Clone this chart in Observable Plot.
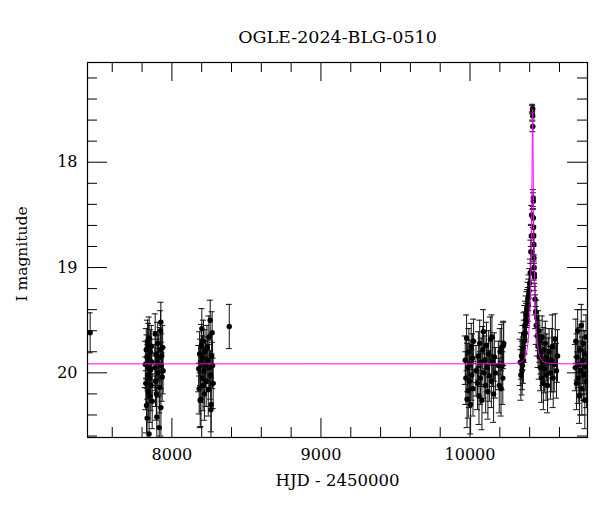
<!DOCTYPE html>
<html><head><meta charset="utf-8">
<script src="https://cdn.jsdelivr.net/npm/d3@7"></script>
<script src="https://cdn.jsdelivr.net/npm/@observablehq/plot@0.6"></script>
<style>body{margin:0;background:#fff} svg{display:block}</style>
</head><body><div id="chart"></div>
<script>
const title = "OGLE-2024-BLG-0510";
const xLabel = "HJD - 2450000";
const yLabel = "I magnitude";

// Observations: HJD-2450000, I magnitude, error
const hjd = [
 7452,
 7822,7825,7828,7830,7833,7834,7836,7838,7840,7842,7844,7847,7847.5,7850,7852,7854,7856,7858,7860,7862,7865,7868,
 7886,7888,7890,7893,7896,7899,7902,7905,7908,7911,7915,7918,7921,7924,7926,7926.5,7929,7932,7935,7938,7941,
 8180,8183,8186,8190,8192,8195,8198,8201,8203,8206,8209,8212,8215,8218,8222,8226,8230,8235,8240,8244,8248,8252,8257,8260,8262,8264,8267,8270,8273,8277,
 8385,
 9968,9972,9977,9980,9984,9988,9992,9996,10000,10004,10008,10012,10016,10020,10024,10040,10050,10056,10060,10065,10070,10075,10080,10085,10090,10095,10100,10105,10110,10115,10120,10125,10130,10137,10143,10147,10152,10158,10163,10170,10190,10196,10202,10208,10212,10216,10220,10224,10226,
 10337,10341,10345,10349,10352,10355,10358,10361,10364,10367,10370,10373,10376,10379,10382,10385,10388,10391,10394,10396,10400,10404,10408,10411,10413,
 10419.5,10420,10420.5,10421,
 10424,10424.5,10425,10426,10427,10428,10429,10430,10431,10432,10436,10440,10444,10448,10452,10456,10460,10464,10468,10472,10476,10480,10484,10488,10492,10496,10500,10505,10510,10515,10520,10525,10530,10540,10548,10552,10558,10565,10572,10580,10587,
 10706,10710,10714,10718,10722,10726,10730,10734,10738,10742,10746,10750,10754,10758,10762,10766,10770,10774,10778,10782
];
const imag = [
 19.62,
 19.92,20.10,19.78,20.31,19.85,20.43,19.70,20.02,19.95,20.18,19.74,20.58,19.67,20.05,19.88,20.22,19.80,19.97,20.12,19.75,19.90,20.27,
 19.95,19.63,20.08,19.82,20.20,20.42,19.90,19.72,20.00,19.86,20.52,20.14,19.78,19.60,19.52,20.33,19.93,19.84,20.04,19.76,19.98,
 19.96,20.15,19.82,20.26,19.90,20.25,19.74,19.58,20.05,19.86,20.12,19.70,19.98,20.20,19.80,19.92,20.08,19.76,19.88,20.16,19.66,19.95,19.50,20.02,20.35,20.30,19.84,19.62,19.93,20.10,
 19.56,
 19.88,20.05,19.67,20.25,19.95,20.17,19.80,20.08,19.92,20.30,19.75,20.02,19.86,20.15,19.70,19.98,20.10,19.84,20.22,19.72,20.05,19.90,20.26,19.78,19.61,20.00,19.88,20.12,19.74,19.95,20.18,19.82,20.03,19.68,20.08,19.66,19.90,20.20,19.85,20.00,19.93,20.12,19.80,20.15,19.76,19.93,20.05,19.74,19.72,
 19.90,20.02,19.84,19.98,19.93,19.76,19.88,19.63,19.70,19.55,19.62,19.50,19.45,19.52,19.40,19.38,19.30,19.35,19.26,19.22,19.15,19.05,18.85,18.70,18.50,
 17.50,17.49,17.56,17.66,
 18.34,18.37,18.53,18.62,18.70,18.78,18.91,19.00,19.06,19.09,19.30,19.42,19.55,19.48,19.65,19.75,19.60,19.85,19.70,19.95,19.80,20.05,19.66,19.90,20.10,19.78,19.96,19.72,20.02,19.85,20.12,19.90,19.80,20.00,19.88,19.75,20.05,19.92,19.68,19.98,19.84,
 19.95,19.70,20.10,19.85,19.60,20.05,19.92,20.22,19.78,19.98,19.55,20.15,19.88,19.72,20.02,19.82,20.26,19.94,19.66,20.08
];
const ierr = [
 0.19,
 0.22,0.25,0.20,0.26,0.21,0.28,0.20,0.23,0.22,0.25,0.21,0.30,0.20,0.23,0.22,0.25,0.21,0.22,0.24,0.20,0.22,0.26,
 0.22,0.19,0.24,0.21,0.25,0.28,0.22,0.20,0.23,0.22,0.30,0.24,0.21,0.19,0.19,0.27,0.22,0.21,0.23,0.21,0.22,
 0.22,0.24,0.21,0.26,0.22,0.26,0.20,0.19,0.23,0.21,0.24,0.20,0.22,0.25,0.21,0.22,0.24,0.21,0.22,0.25,0.20,0.22,0.19,0.23,0.27,0.26,0.21,0.20,0.22,0.24,
 0.21,
 0.23,0.25,0.22,0.27,0.23,0.26,0.22,0.25,0.23,0.28,0.22,0.24,0.23,0.26,0.21,0.24,0.25,0.23,0.27,0.22,0.25,0.23,0.28,0.22,0.21,0.24,0.23,0.26,0.22,0.23,0.26,0.22,0.24,0.21,0.25,0.21,0.23,0.27,0.23,0.24,0.23,0.26,0.22,0.26,0.22,0.23,0.25,0.22,0.21,
 0.22,0.24,0.22,0.23,0.23,0.21,0.22,0.20,0.20,0.19,0.20,0.18,0.18,0.18,0.17,0.17,0.16,0.16,0.15,0.15,0.14,0.13,0.11,0.10,0.09,
 0.04,0.04,0.04,0.05,
 0.08,0.08,0.09,0.09,0.10,0.10,0.11,0.12,0.12,0.13,0.15,0.16,0.18,0.17,0.19,0.20,0.19,0.21,0.20,0.22,0.21,0.23,0.20,0.22,0.25,0.21,0.23,0.21,0.24,0.22,0.26,0.23,0.22,0.25,0.30,0.30,0.28,0.26,0.24,0.26,0.25,
 0.22,0.21,0.25,0.22,0.20,0.24,0.22,0.26,0.21,0.23,0.20,0.25,0.22,0.21,0.24,0.22,0.27,0.23,0.21,0.25
];

// Microlensing model curve
const modelHjd = [7430,10220,10320,10360,10380,10390,10395,10400,10404,10407,10410,10412,10414,10416,10417,10418,10419,10420,10421,10422,10423,10424,10426,10428,10430,10433,10436,10440,10445,10450,10460,10480,10520,10620,10790];
const modelMag = [19.915,19.914,19.908,19.878,19.800,19.693,19.599,19.458,19.293,19.122,18.892,18.692,18.438,18.114,17.925,17.729,17.563,17.494,17.563,17.729,17.925,18.114,18.438,18.692,18.892,19.122,19.293,19.458,19.599,19.693,19.800,19.878,19.908,19.914,19.915];

const xMajorTicks = [8000, 9000, 10000];
const xMinorTicks = [7600, 7800, 8200, 8400, 8600, 8800, 9200, 9400, 9600, 9800, 10200, 10400, 10600];
const yMajorTicks = [18, 19, 20];
const yMinorTicks = [17.2, 17.4, 17.6, 17.8, 18.2, 18.4, 18.6, 18.8, 19.2, 19.4, 19.6, 19.8, 20.2, 20.4, 20.6];

const obs = hjd.map((t, i) => ({t, m: imag[i], e: ierr[i]}));
const model = modelHjd.map((t, i) => ({t, m: modelMag[i]}));

const W = 600, H = 512, mL = 87, mR = 13, mT = 62, mB = 75;
const fw = W - mL - mR, fh = H - mT - mB;
const minorLen = 10, majorLen = 19;
const capHalf = 20;

const chart = Plot.plot({
  width: W, height: H,
  marginLeft: mL, marginRight: mR, marginTop: mT, marginBottom: mB,
  style: {fontFamily: "'DejaVu Serif', serif", fontSize: "16px", color: "black", background: "white"},
  x: {domain: [7434, 10788], axis: null},
  y: {domain: [17.053, 20.614], reverse: true, axis: null},
  marks: [
    // error bars
    Plot.ruleX(obs, {x: "t", y1: d => d.m - d.e, y2: d => d.m + d.e, stroke: "#111", strokeWidth: 1, clip: true}),
    Plot.ruleY(obs, {y: d => d.m - d.e, x1: d => d.t - capHalf, x2: d => d.t + capHalf, stroke: "#111", strokeWidth: 1, clip: true}),
    Plot.ruleY(obs, {y: d => d.m + d.e, x1: d => d.t - capHalf, x2: d => d.t + capHalf, stroke: "#111", strokeWidth: 1, clip: true}),
    Plot.dot(obs, {x: "t", y: "m", r: 2.7, fill: "black", stroke: "none", clip: true}),
    Plot.line(model, {x: "t", y: "m", stroke: "#ff00ff", strokeWidth: 1, curve: "monotone-x", clip: true}),
    Plot.frame({stroke: "black", strokeWidth: 1.2}),
    // inward ticks
    Plot.tickX(xMinorTicks, {x: d => d, insetBottom: fh - minorLen, stroke: "black"}),
    Plot.tickX(xMinorTicks, {x: d => d, insetTop: fh - minorLen, stroke: "black"}),
    Plot.tickX(xMajorTicks, {x: d => d, insetBottom: fh - majorLen, stroke: "black"}),
    Plot.tickX(xMajorTicks, {x: d => d, insetTop: fh - majorLen, stroke: "black"}),
    Plot.tickY(yMinorTicks, {y: d => d, insetRight: fw - minorLen, stroke: "black"}),
    Plot.tickY(yMinorTicks, {y: d => d, insetLeft: fw - minorLen, stroke: "black"}),
    Plot.tickY(yMajorTicks, {y: d => d, insetRight: fw - majorLen - 1, stroke: "black"}),
    Plot.tickY(yMajorTicks, {y: d => d, insetLeft: fw - majorLen - 1, stroke: "black"}),
    // tick labels
    Plot.axisX(xMajorTicks, {anchor: "bottom", tickSize: 0, tickPadding: 11.5, fontSize: 16, label: null, tickFormat: d => String(d)}),
    Plot.axisY(yMajorTicks, {anchor: "left", tickSize: 0, tickPadding: 10, fontSize: 16, label: null, tickFormat: d => String(d)}),
    // titles
    Plot.text([title], {text: d => d, frameAnchor: "top", lineAnchor: "middle", textAnchor: "middle", dy: -25.5, fontSize: 17.5}),
    Plot.text([xLabel], {text: d => d, frameAnchor: "bottom", lineAnchor: "middle", textAnchor: "middle", dy: 42.8, fontSize: 16.5}),
    Plot.text([yLabel], {text: d => d, frameAnchor: "left", lineAnchor: "middle", textAnchor: "middle", dx: -65.8, dy: 4, rotate: -90, fontSize: 15.5})
  ]
});
document.getElementById("chart").appendChild(chart);
</script>
</body></html>
